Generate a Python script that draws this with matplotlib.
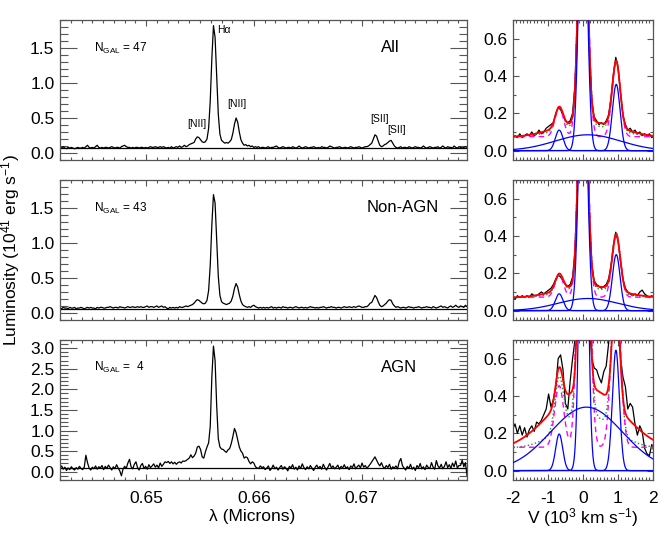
import numpy as np
import matplotlib
matplotlib.use('Agg')
import matplotlib.pyplot as plt
from matplotlib.ticker import MultipleLocator, FormatStrFormatter

plt.rcParams['font.family'] = ['Liberation Sans', 'DejaVu Sans']
plt.rcParams['mathtext.fontset'] = 'custom'
plt.rcParams['mathtext.rm'] = 'Liberation Sans'
plt.rcParams['mathtext.it'] = 'Liberation Sans:italic'
plt.rcParams['axes.unicode_minus'] = False

# stacked spectra, regular wavelength grid (microns)
LAM_START = 0.6420
LAM_STEP = 0.00015
HALPHA = 0.6563
C_KMS = 3.0e5

# flux in units of 0.01 x 10^41 erg/s
flux_all = [
    8, 7, 9, 7, 6, 8, 7, 8, 7, 6, 7, 8, 7, 7, 8, 7, 9, 11, 8, 7,
    8, 7, 9, 11, 8, 7, 8, 7, 8, 8, 7, 8, 9, 8, 7, 8, 8, 7, 9, 10,
    11, 9, 8, 8, 7, 8, 7, 8, 8, 7, 8, 8, 7, 8, 7, 8, 9, 8, 8, 9,
    8, 8, 9, 8, 9, 8,
    7, 8, 7, 9, 7, 8, 9, 8, 10, 8, 9, 11, 9, 10, 12, 13, 14, 15, 20, 23,
    22, 19, 16, 15, 16, 20, 35, 74, 135, 182, 165, 110, 55, 27, 18, 16, 14, 15, 14, 16,
    19, 28, 41, 50, 44, 30, 19, 14, 11, 12, 10, 11, 9, 10, 8, 9, 8, 9, 7, 8,
    8, 7, 8, 9, 7, 8, 8, 9, 10, 8, 7, 8, 9, 8,
    7, 8, 8, 7, 9, 8, 7, 8, 10, 8, 7, 8, 9, 8, 7, 8, 8, 9, 8, 7,
    8, 7, 9, 8, 8, 7, 8, 10, 9, 8, 7, 8, 8, 9, 8, 7, 8, 8, 7, 8,
    9, 8, 7, 8, 8, 9, 8, 7, 8, 9, 9, 10, 12,
    14, 20, 26, 24, 17, 11, 9, 10, 12, 13, 15, 17, 18, 14, 10,
    8, 7, 8, 9, 7, 8, 8, 7, 9, 8, 7, 8, 9, 8, 8, 7, 8, 10, 8, 7,
    8, 9, 8, 7, 8, 8, 9, 7, 8, 10, 8, 7, 9, 8, 8, 7, 10, 8, 7, 9,
    8, 7, 8, 9, 8, 8,
]
flux_nonagn = [
    7, 6, 8, 7, 7, 6, 8, 7, 7, 8, 6, 7, 7, 8, 7, 6, 7, 8, 7, 8,
    7, 7, 6, 8, 7, 8, 8, 7, 7, 8, 8, 9, 8, 7, 8, 8, 7, 9, 8, 8,
    7, 8, 9, 8, 8, 9, 8, 8, 9, 8, 9, 8, 8, 9, 10, 8, 9, 9, 8, 9,
    10, 8, 9, 10, 8, 9,
    7, 6, 8, 7, 8, 7, 8, 7, 9, 8, 8, 9, 10, 9, 10, 11, 12, 14, 17, 19,
    18, 16, 14, 13, 14, 18, 32, 68, 126, 169, 157, 104, 52, 25, 16, 14, 13, 12, 13, 14,
    17, 24, 35, 42, 37, 26, 17, 12, 10, 9, 8, 9, 8, 10, 11, 9, 8, 7, 8, 7,
    8, 7, 8, 7, 8, 9, 7, 8, 7, 8, 8, 7, 9, 8,
    8, 7, 8, 8, 7, 8, 9, 8, 7, 8, 8, 7, 8, 7, 8, 9, 8, 8, 7, 8,
    7, 8, 8, 9, 8, 7, 8, 8, 9, 8, 8, 7, 8, 8, 7, 8, 9, 8, 8, 9,
    8, 8, 9, 8, 9, 10, 9, 8, 8, 9, 9, 11, 14,
    15, 20, 25, 22, 16, 11, 9, 10, 12, 14, 17, 19, 18, 13, 10,
    8, 9, 8, 7, 8, 8, 7, 8, 9, 8, 8, 7, 8, 8, 9, 8, 7, 8, 8, 9,
    8, 8, 7, 9, 8, 7, 8, 9, 10, 8, 9, 8, 7, 9, 10, 8, 9, 11, 9, 8,
    10, 9, 8, 11, 9, 10,
]
flux_agn = [
    8, 14, 6, 11, 3, 9, 5, 12, 7, 4, 10, 6, 13, 8, 5, 11, 40, 22, 9, 4,
    11, 7, 14, 6, 12, 9, 15, 5, 13, 8, 16, 10, 4, 12, 7, 17, 9, 2, -10, 6,
    13, 8, 21, 30, 12, 7, 18, 24, 10, 4, 15, 20, 8, 13, 6, 17, 10, 14, 19, 11,
    16, 9, 21, 13, 18, 24,
    22, 25, 20, 24, 19, 23, 18, 22, 24, 21, 26, 25, 27, 30, 33, 41, 34, 38, 45, 60,
    62, 54, 36, 33, 48, 60, 70, 110, 230, 305, 270, 160, 80, 60, 55, 54, 50, 47, 53, 56,
    68, 85, 105, 95, 78, 60, 50, 45, 33, 36, 34, 25, 19, 24, 21, 12, 9, 8, 14, 10,
    12, 5, 9, 14, 3, 8, 16, 7, 11, 4, 10, 15, 6, 12,
    8, 2, 13, 9, 17, 6, 11, 4, 14, 8, 19, 10, 5, 12, 7, 15, 9, 3, 11, 16,
    8, 13, 6, 18, 10, 4, 12, 20, 9, 14, 7, 11, 16, 6, 13, 9, 17, 8, 12, 5,
    14, 10, 19, 7, 12, 16, 9, 21, 11, 15, 8, 13, 18,
    24, 30, 36, 28, 20, 14, 22, 12, 8, 15, 10, 18, 6, 12, 9,
    14, 7, 24, 32, 15, 9, 4, 13, 8, 18, 6, 11, 3, 15, 9, 20, 7, 12, 5, 16,
    10, 8, 22, 11, 6, 27, 14, 9, 18, 7, 13, 24, 10, 17, 8, 21, 12, 26, 9, 15,
    15, 28, 12, 22, -10, 14, 25, 18,
]

sample_names = ['All', 'Non-AGN', 'AGN']
n_gal = ['47', '43', ' 4']
cont_level = [0.07, 0.06, 0.10]

# Gaussian fit parameters, velocity in 10^3 km/s
red_cont = [0.068, 0.068, 0.103]
broad_amp = [0.085, 0.065, 0.34]
broad_cen = [0.14, 0.14, 0.10]
broad_sig = [0.93, 0.85, 1.03]
narrow_cen = [[-0.68, 0.0, 0.95], [-0.68, 0.0, 0.95], [-0.68, 0.02, 0.94]]
narrow_amp = [[0.11, 1.65, 0.355], [0.09, 1.58, 0.30], [0.196, 2.6, 0.645]]
narrow_sig = [0.11, 0.11, 0.10]

mag_cont = [0.075, 0.072, 0.125]
mag_amp = [[0.16, 1.75, 0.40], [0.12, 1.65, 0.33], [0.33, 2.9, 0.9]]
mag_sig = [0.12, 0.12, 0.13]

grn_cont = [0.075, 0.07, 0.12]
grn_broad_amp = [0.06, 0.05, 0.18]
grn_broad_sig = [0.8, 0.75, 0.75]
grn_amp = [[0.12, 1.7, 0.37], [0.10, 1.62, 0.32], [0.28, 2.7, 0.8]]
grn_sig = [0.115, 0.115, 0.12]

left_ylim = [(-0.1, 1.9), (-0.1, 1.9), (-0.2, 3.2)]

# line labels on the top panel: (text, wavelength, flux)
line_labels = [
    ('[NII]', 0.65472, 0.41),
    ('H\u03b1', 0.65655, 1.76),
    ('[NII]', 0.65843, 0.70),
    ('[SII]', 0.67167, 0.48),
    ('[SII]', 0.67324, 0.33),
]

FRAME = '#555555'


def gauss(v, amp, cen, sig):
    return amp * np.exp(-(v - cen) ** 2 / (2 * sig ** 2))


def style_axis(ax, xmaj_len, ymaj_len):
    for s in ax.spines.values():
        s.set_color(FRAME)
        s.set_linewidth(0.9)
    ax.tick_params(which='both', direction='in', top=True, right=True,
                   color=FRAME, width=0.8, labelsize=12.5)
    ax.tick_params(axis='x', which='major', length=xmaj_len, pad=8)
    ax.tick_params(axis='x', which='minor', length=xmaj_len / 2)
    ax.tick_params(axis='y', which='major', length=ymaj_len, pad=4)
    ax.tick_params(axis='y', which='minor', length=ymaj_len / 2)


fig = plt.figure(figsize=(6.67, 5.46), dpi=100)
rows_bottom = [0.707, 0.414, 0.121]
spectra = [flux_all, flux_nonagn, flux_agn]
v = np.linspace(-2.1, 2.1, 841)

for i in range(3):
    flux = np.array(spectra[i]) / 100.0
    lam = LAM_START + LAM_STEP * np.arange(len(flux))
    vel = C_KMS * (lam - HALPHA) / HALPHA / 1000.0

    # ---- left: full spectrum
    axl = fig.add_axes([0.0900, rows_bottom[i], 0.6102, 0.2564])
    axl.plot(lam, flux, color='black', lw=0.9)
    axl.axhline(cont_level[i], color='black', lw=0.9)
    axl.set_xlim(0.642, 0.6798)
    axl.set_ylim(*left_ylim[i])
    axl.xaxis.set_major_locator(MultipleLocator(0.01))
    axl.xaxis.set_minor_locator(MultipleLocator(0.001))
    axl.xaxis.set_major_formatter(FormatStrFormatter('%.2f'))
    axl.yaxis.set_major_locator(MultipleLocator(0.5))
    axl.yaxis.set_minor_locator(MultipleLocator(0.1))
    axl.yaxis.set_major_formatter(FormatStrFormatter('%.1f'))
    style_axis(axl, 4.0, 12.0)
    if i < 2:
        axl.tick_params(axis='x', labelbottom=False)

    axl.text(0.084, 0.80, r'N$_{\mathrm{GAL}}$ = ' + n_gal[i],
             transform=axl.transAxes, fontsize=8.5, va='center')
    name_x = [0.811, 0.843, 0.834][i]
    axl.text(name_x, 0.80, sample_names[i], transform=axl.transAxes,
             fontsize=12, ha='center', va='center')
    if i == 0:
        for txt, lx, ly in line_labels:
            ha = 'left' if txt.startswith('H') else 'center'
            axl.text(lx, ly, txt, fontsize=7.5, ha=ha, va='center')

    # ---- right: velocity zoom with fit components
    axr = fig.add_axes([0.7691, rows_bottom[i], 0.2099, 0.2564])
    axr.plot(vel, flux, color='black', lw=0.9, zorder=2)

    grn = grn_cont[i] + gauss(v, grn_broad_amp[i], broad_cen[i], grn_broad_sig[i])
    mag = mag_cont[i] + np.zeros_like(v)
    red = red_cont[i] + gauss(v, broad_amp[i], broad_cen[i], broad_sig[i])
    for j in range(3):
        grn += gauss(v, grn_amp[i][j], narrow_cen[i][j], grn_sig[i])
        mag += gauss(v, mag_amp[i][j], narrow_cen[i][j], mag_sig[i])
        red += gauss(v, narrow_amp[i][j], narrow_cen[i][j], narrow_sig[i])
    axr.plot(v, grn, color='#1a9a1a', lw=1.0, ls=':', zorder=3)
    axr.plot(v, mag, color='#ff00ff', lw=1.0, dashes=(4, 3), zorder=3)
    axr.plot(v, red, color='red', lw=1.3, zorder=4)
    axr.plot(v, gauss(v, broad_amp[i], broad_cen[i], broad_sig[i]),
             color='#0000ff', lw=0.9, zorder=5)
    for j in range(3):
        axr.plot(v, gauss(v, narrow_amp[i][j], narrow_cen[i][j], narrow_sig[i]),
                 color='#0000ff', lw=0.9, zorder=5)

    axr.set_xlim(-2, 2)
    axr.set_ylim(-0.05, 0.7)
    axr.xaxis.set_major_locator(MultipleLocator(1))
    axr.xaxis.set_minor_locator(MultipleLocator(0.1))
    axr.yaxis.set_major_locator(MultipleLocator(0.2))
    axr.yaxis.set_minor_locator(MultipleLocator(0.1))
    axr.yaxis.set_major_formatter(FormatStrFormatter('%.1f'))
    axr.xaxis.set_major_formatter(FormatStrFormatter('%d'))
    style_axis(axr, 4.0, 4.0)
    if i < 2:
        axr.tick_params(axis='x', labelbottom=False)

fig.text(0.016, 0.542, r'Luminosity (10$^{41}$ erg s$^{-1}$)', rotation=90,
         ha='center', va='center', fontsize=12.5)
fig.text(252 / 667, 1 - 517 / 546, '\u03bb (Microns)', ha='center', va='center',
         fontsize=12.5)
fig.text(583 / 667, 1 - 518 / 546, r'V (10$^{3}$ km s$^{-1}$)', ha='center',
         va='center', fontsize=12.5)

fig.savefig('out.png', dpi=100)
